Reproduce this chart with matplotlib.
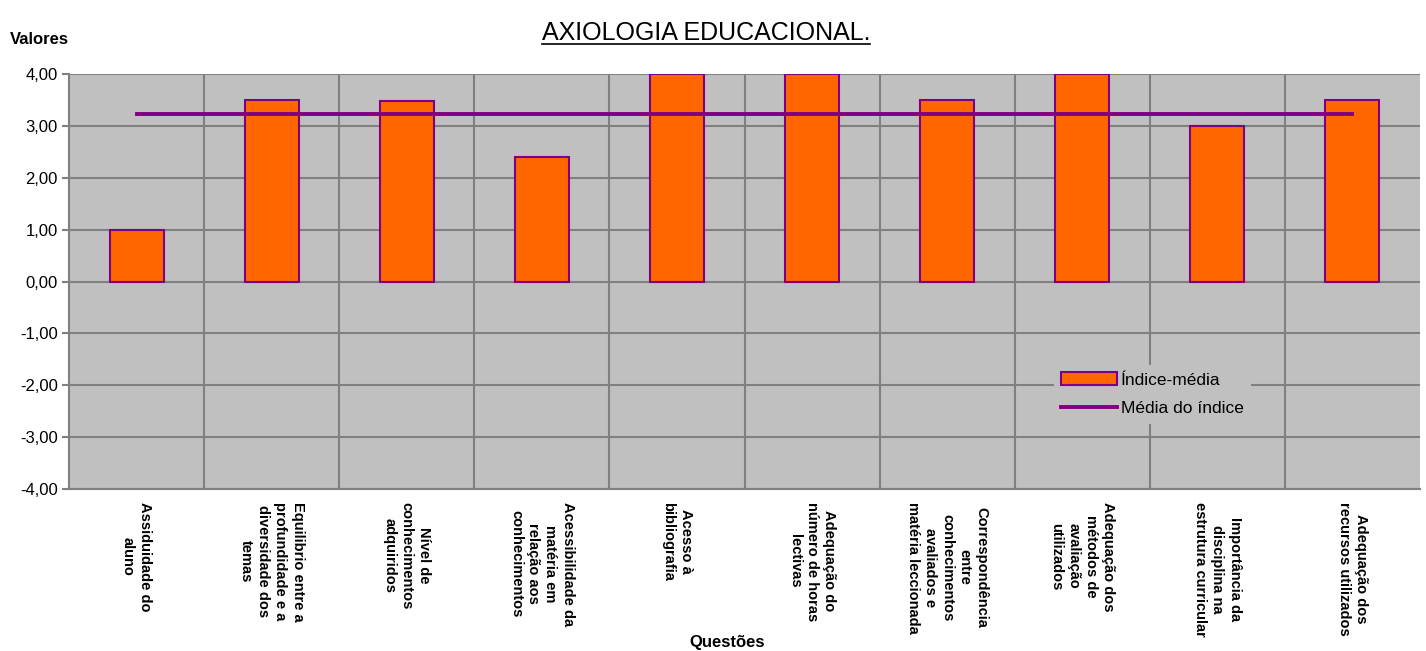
import numpy as np
import matplotlib
matplotlib.use("Agg")
import matplotlib.pyplot as plt
from matplotlib.lines import Line2D
from matplotlib.ticker import FuncFormatter

plt.rcParams['font.family'] = ['Liberation Sans', 'DejaVu Sans']

categorias = [
    "Assiduidade do\naluno",
    "Equilibrio entre a\nprofundidade e a\ndiversidade dos\ntemas",
    "Nível de\nconhecimentos\nadquiridos",
    "Acessibilidade da\nmatéria em\nrelação aos\nconhecimentos",
    "Acesso à\nbibliografia",
    "Adequação do\nnúmero de horas\nlectivas",
    "Correspondência\nentre\nconhecimentos\navaliados e\nmatéria leccionada",
    "Adequação dos\nmétodos de\navaliação\nutilizados",
    "Importância da\ndisciplina na\nestrutura curricular",
    "Adequação dos\nrecursos utilizados",
]
indice_media = [1.00, 3.50, 3.47, 2.40, 4.00, 4.00, 3.50, 4.00, 3.00, 3.50]
media_indice = float(np.mean(indice_media))
y_ticks = [-4, -3, -2, -1, 0, 1, 2, 3, 4]

W, H = 1426, 651
fig = plt.figure(figsize=(W / 100, H / 100), dpi=100)
ax = fig.add_axes([69 / W, 1 - 489 / H, (1420 - 69) / W, (489 - 74) / H])
ax.set_facecolor('#C0C0C0')

x = np.arange(len(categorias))
bars = ax.bar(x, indice_media, width=0.4, color='#FF6600', edgecolor='#800080',
              linewidth=1.5, zorder=3, label='Índice-média')
line, = ax.plot([x[0], x[-1]], [media_indice, media_indice], color='#800080',
                linewidth=2.8, zorder=4, label='Média do índice')

ax.set_xlim(-0.5, len(categorias) - 0.5)
ax.set_ylim(-4, 4)
ax.set_yticks(y_ticks)
ax.yaxis.set_major_formatter(FuncFormatter(lambda v, p: f"{v:.2f}".replace('.', ',')))

# gridlines
for yv in y_ticks:
    ax.axhline(yv, color='#808080', linewidth=1.5, zorder=1)
for xv in np.arange(0.5, len(categorias) - 0.5, 1.0):
    ax.axvline(xv, color='#808080', linewidth=1.5, zorder=1)

for s in ax.spines.values():
    s.set_color('#808080')
    s.set_linewidth(1.5)
ax.spines['right'].set_visible(False)
ax.spines['top'].set_visible(False)

ax.set_xticks(x)
ax.set_xticklabels(categorias, rotation=-90, fontsize=10.5, fontweight='bold',
                   ha='center', va='top', multialignment='center', linespacing=1.3)
ax.tick_params(axis='x', length=0, pad=9)
ax.tick_params(axis='y', length=5, color='#808080', width=1.5, labelsize=12, pad=3)

leg = ax.legend(handles=[bars, line], loc='upper left', bbox_to_anchor=(1045 / W, 1 - 356 / H),
                bbox_transform=fig.transFigure, frameon=True, fontsize=12.5,
                handlelength=3.2, handletextpad=0.2, borderpad=0.45, labelspacing=0.75)
leg.get_frame().set_facecolor('#C0C0C0')
leg.get_frame().set_edgecolor('none')
leg.get_frame().set_alpha(1)
leg.set_zorder(10)

fig.text(10 / W, 1 - 40 / H, "Valores", fontsize=12, fontweight='bold', ha='left', va='center')
fig.text(727 / W, 1 - 642 / H, "Questões", fontsize=12, fontweight='bold', ha='center', va='center')

t = fig.text(706 / W, 1 - 33 / H, "AXIOLOGIA EDUCACIONAL.", fontsize=18, ha='center', va='center')
fig.canvas.draw()
bb = t.get_window_extent(renderer=fig.canvas.get_renderer())
uy = (bb.y0 + 1) / H
fig.add_artist(Line2D([bb.x0 / W, bb.x1 / W], [uy, uy], transform=fig.transFigure,
                      color='black', linewidth=1.2))

fig.savefig("out.png", dpi=100, facecolor='white')
